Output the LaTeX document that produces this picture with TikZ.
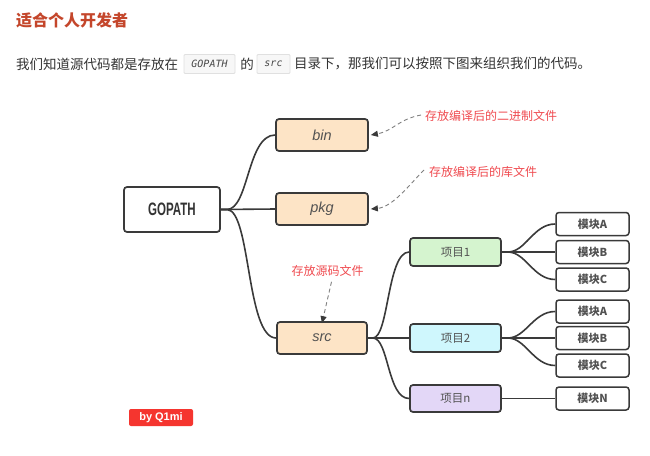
\documentclass[tikz,border=0pt]{standalone}
\usepackage{fontspec}
\usepackage{graphicx}
\usetikzlibrary{arrows.meta}
\setmainfont{Liberation Sans}
\newfontfamily\cjk{Noto Sans CJK SC}
\newfontfamily\codefont{DejaVu Sans Mono}
\definecolor{titlec}{HTML}{C4462B}
\definecolor{txt}{HTML}{333333}
\definecolor{linec}{HTML}{3A3A3A}
\definecolor{peach}{HTML}{FDE4C6}
\definecolor{pgreen}{HTML}{D5F4CF}
\definecolor{pcyan}{HTML}{CFF7FD}
\definecolor{ppurple}{HTML}{E3D7F7}
\definecolor{annred}{HTML}{F04B50}
\definecolor{badgered}{HTML}{F5352F}
\definecolor{codebg}{HTML}{F7F7F7}
\definecolor{codeborder}{HTML}{E0E0E0}
\definecolor{dashc}{HTML}{808080}
\tikzset{
  box/.style={draw=linec, line width=1.7pt, rounded corners=3pt, inner sep=0pt, align=center},
  dirbox/.style={box, fill=peach, minimum width=92pt, minimum height=32pt,
    font=\fontsize{14.5}{16}\selectfont\itshape, text=txt!85},
  projbox/.style={box, minimum width=91pt, minimum height=28pt,
    font=\cjk\fontsize{11.5}{14}\selectfont, text=txt!85},
  modbox/.style={box, fill=white, line width=1.5pt, minimum width=73pt, minimum height=23pt,
    font=\cjk\bfseries\fontsize{11}{13}\selectfont, text=txt!85},
  conn/.style={draw=linec, line width=1.6pt},
  note/.style={font=\cjk\fontsize{12}{14}\selectfont, text=annred, inner sep=0pt},
  dasharrow/.style={draw=dashc, line width=0.9pt, dash pattern=on 4pt off 3pt,
    -{Triangle[length=7pt,width=6pt,color=linec]}},
  para/.style={font=\cjk\fontsize{13.5}{16}\selectfont, text=txt, inner sep=0pt},
  codebox/.style={draw=codeborder, fill=codebg, line width=0.8pt, minimum height=19pt,
    inner sep=0pt, rounded corners=1pt, font=\codefont\itshape\fontsize{10}{12}\selectfont, text=txt!90}
}
\begin{document}
\begin{tikzpicture}[x=1pt,y=-1pt]
\useasboundingbox[fill=white] (0,0) rectangle (650,455);

% header
\node[anchor=west, inner sep=0pt, font=\cjk\bfseries\fontsize{16}{18}\selectfont, text=titlec] (title) at (16,20) {适合个人开发者};
\node[para, anchor=west] (p1) at (16,64) {我们知道源代码都是存放在};
\node[codebox, minimum width=51pt] (c1) at (209.5,64) {GOPATH};
\node[para] (p2) at (247,64) {的};
\node[codebox, minimum width=33pt] (c2) at (273.5,64) {src};
\node[para, anchor=west] (p3) at (294,64) {目录下，那我们可以按照下图来组织我们的代码。};

% main nodes
\node[box, fill=white, minimum width=96pt, minimum height=45pt, text=txt] (g) at (172,209.5)
  {\scalebox{0.64}[1]{\fontsize{18}{20}\selectfont\bfseries GOPATH}};
\node[dirbox] (bin) at (322,135) {bin};
\node[dirbox] (pkg) at (322,209) {pkg};
\node[dirbox, minimum width=90pt] (src) at (322,338) {src};

\node[projbox, fill=pgreen] (p1n) at (455.5,252) {项目1};
\node[projbox, fill=pcyan] (p2n) at (455.5,338) {项目2};
\node[projbox, fill=ppurple, minimum height=27pt] (pnn) at (455.5,398.5) {项目n};

\node[modbox] (m1a) at (592.5,224) {模块A};
\node[modbox] (m1b) at (592.5,252) {模块B};
\node[modbox] (m1c) at (592.5,279.5) {模块C};
\node[modbox] (m2a) at (592.5,311.5) {模块A};
\node[modbox] (m2b) at (592.5,338) {模块B};
\node[modbox] (m2c) at (592.5,365.5) {模块C};
\node[modbox] (mn) at (592.5,398.5) {模块N};

% notes
\node[note, anchor=west] (n1) at (425,116) {存放编译后的二进制文件};
\node[note, anchor=west] (n2) at (429,172) {存放编译后的库文件};
\node[note] (n3) at (327.5,271) {存放源码文件};

% connectors
\draw[conn] (g.east) -- ++(6,0) .. controls +(22,0) and +(-28,0) .. (bin.west);
\draw[conn] (g.east) -- (pkg.west);
\draw[conn] (g.east) -- ++(6,0) .. controls +(24,0) and +(-30,0) .. (src.west);

\draw[conn] (src.east) -- ++(5,0) .. controls +(16,0) and +(-22,0) .. (p1n.west);
\draw[conn] (src.east) -- (p2n.west);
\draw[conn] (src.east) -- ++(5,0) .. controls +(16,0) and +(-22,0) .. (pnn.west);

\draw[conn] (p1n.east) -- ++(6,0) .. controls +(18,0) and +(-22,0) .. (m1a.west);
\draw[conn] (p1n.east) -- (m1b.west);
\draw[conn] (p1n.east) -- ++(6,0) .. controls +(18,0) and +(-22,0) .. (m1c.west);
\draw[conn] (p2n.east) -- ++(6,0) .. controls +(18,0) and +(-22,0) .. (m2a.west);
\draw[conn] (p2n.east) -- (m2b.west);
\draw[conn] (p2n.east) -- ++(6,0) .. controls +(18,0) and +(-22,0) .. (m2c.west);
\draw[conn] (pnn.east) -- (mn.west);

% dashed annotation arrows
\draw[dasharrow] ([xshift=-4pt,yshift=1pt]n1.west) .. controls +(-22,4) and +(22,-4) .. ([xshift=2pt]bin.east);
\draw[dasharrow] ([xshift=-5pt,yshift=2pt]n2.west) .. controls +(-14,14) and +(22,-2) .. ([xshift=2pt]pkg.east);
\draw[dasharrow] ([xshift=4pt,yshift=-5pt]n3.south) -- ([yshift=-2pt]src.north);

% badge
\node[fill=badgered, rounded corners=2pt, minimum width=64pt, minimum height=17pt, inner sep=0pt,
  text=white, font=\bfseries\fontsize{11}{13}\selectfont] (badge) at (161,417.5) {by Q1mi};
\end{tikzpicture}
\end{document}
